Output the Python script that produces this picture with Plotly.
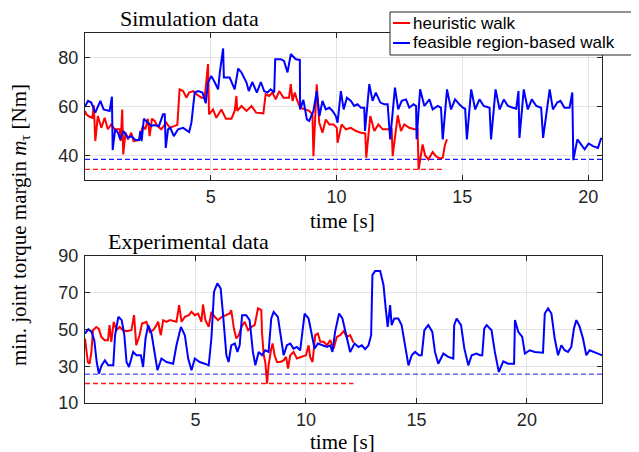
import plotly.graph_objects as go

# ---------------- data ----------------
sim_heur_t = [0, 0.05, 0.18, 0.29, 0.35, 0.41, 0.51, 0.65, 0.78, 0.91, 1.04, 1.18, 1.38, 1.42, 1.48, 1.52,
              1.61, 1.71, 1.84, 1.93, 2.15, 2.30, 2.40, 2.50, 2.57, 2.66, 2.77, 2.88, 3.03, 3.23, 3.37, 3.57,
              3.67, 3.76, 3.90, 4.03, 4.14, 4.30, 4.43, 4.63, 4.76, 4.89, 4.93, 5.09, 5.22, 5.42, 5.60, 5.82,
              5.95, 6.02, 6.05, 6.22, 6.42, 6.62, 6.80, 7.09, 7.18, 7.32, 7.45, 7.58, 7.72, 7.89, 8.11, 8.18,
              8.25, 8.34, 8.42, 8.55, 8.71, 8.91, 9.04, 9.08, 9.21, 9.31, 9.44, 9.57, 9.71, 9.88, 10.01, 10.04,
              10.20, 10.37, 10.57, 10.77, 10.97, 11.14, 11.18, 11.34, 11.50, 11.66, 11.83, 12.03, 12.19, 12.23,
              12.43, 12.56, 12.69, 12.89, 13.09, 13.22, 13.26, 13.42, 13.52, 13.65, 13.82, 13.95, 14.10, 14.22,
              14.31, 14.39]
sim_heur_m = [58.2, 56.8, 55.8, 55.4, 60.5, 45.9, 56.1, 51.3, 55.4, 50.7, 52.7, 50.7, 50.7, 45.9, 58.8, 40.4,
              49.3, 46.6, 49.3, 45.9, 46.3, 52.0, 50.7, 55.0, 47.9, 55.0, 54.1, 52.0, 50.7, 53.4, 51.3, 52.0,
              52.5, 67.0, 66.3, 63.6, 65.7, 66.3, 65.0, 63.6, 63.6, 77.3, 56.8, 58.8, 55.4, 58.8, 55.0, 55.0,
              58.2, 64.3, 58.2, 60.2, 58.2, 60.2, 57.5, 57.2, 65.0, 64.3, 65.7, 62.9, 66.3, 63.6, 63.6, 69.1,
              62.3, 65.7, 62.9, 59.5, 58.8, 58.2, 56.8, 39.7, 69.1, 53.4, 49.3, 54.7, 52.7, 52.7, 51.3, 45.2,
              52.7, 50.7, 51.3, 50.0, 49.3, 49.0, 39.1, 56.1, 50.0, 52.7, 50.7, 50.7, 50.7, 39.7,
              56.4, 50.0, 52.7, 51.3, 50.7, 50.7, 34.3, 44.5, 40.0, 38.4, 41.4, 39.7, 38.8, 39.1,
              44.5, 46.6]

sim_feas_t = [0, 0.12, 0.25, 0.41, 0.61, 0.74, 0.98, 1.07, 1.10, 1.20, 1.31, 1.40, 1.53, 1.71, 1.84, 2.01,
              2.15, 2.20, 2.25, 2.34, 2.50, 2.64, 2.73, 2.94, 3.10, 3.17, 3.21, 3.30, 3.39, 3.53, 3.70, 3.90,
              4.14, 4.23, 4.36, 4.49, 4.67, 4.80, 4.89, 5.02, 5.16, 5.29, 5.36, 5.49, 5.52, 5.75, 5.95, 6.09,
              6.22, 6.42, 6.51, 6.65, 6.83, 6.99, 7.12, 7.25, 7.38, 7.52, 7.56, 7.78, 7.91, 8.05, 8.18, 8.38,
              8.54, 8.55, 8.68, 8.82, 8.91, 9.08, 9.21, 9.32, 9.44, 9.57, 9.71, 9.84, 9.97, 10.04, 10.17, 10.28,
              10.41, 10.57, 10.70, 10.83, 10.97, 11.10, 11.13, 11.30, 11.43, 11.56, 11.74, 11.90, 12.03, 12.13,
              12.32, 12.45, 12.59, 12.76, 12.89, 13.06, 13.16, 13.18, 13.32, 13.49, 13.69, 13.82, 14.02, 14.15,
              14.22, 14.39, 14.55, 14.71, 14.88, 15.02, 15.11, 15.18, 15.35, 15.51, 15.68, 15.85, 16.08, 16.14,
              16.32, 16.48, 16.65, 16.81, 17.01, 17.14, 17.23, 17.27, 17.44, 17.60, 17.76, 17.94, 18.13, 18.21,
              18.47, 18.60, 18.77, 18.90, 19.06, 19.26, 19.37, 19.41, 19.57, 19.73, 19.86, 20.02, 20.19, 20.39,
              20.52]
sim_feas_m = [60.0, 62.3, 61.6, 57.5, 62.3, 58.8, 58.2, 64.0, 42.2, 50.7, 49.3, 46.6, 50.0, 47.2, 47.9, 46.3,
              46.3, 50.0, 45.9, 55.0, 53.4, 52.0, 52.4, 52.0, 56.8, 56.8, 43.1, 50.7, 51.3, 47.9, 50.7, 51.3,
              49.6, 53.4, 65.7, 66.3, 65.7, 61.3, 69.8, 72.5, 69.8, 67.0, 73.9, 83.7, 71.8, 71.8, 67.0, 75.5,
              73.9, 69.8, 66.3, 70.0, 65.7, 70.0, 66.3, 65.7, 67.0, 65.7, 79.3, 79.3, 78.6, 73.9, 81.4, 79.3,
              79.0, 58.8, 62.7, 54.7, 54.1, 58.2, 66.3, 56.1, 62.3, 58.8, 59.5, 58.2, 56.1, 53.4, 66.3, 58.8,
              63.6, 62.3, 60.2, 60.9, 59.5, 59.5, 50.0, 69.1, 62.3, 65.7, 61.6, 60.9, 60.9, 46.6,
              67.7, 58.8, 62.3, 62.9, 59.5, 60.9, 60.2, 46.6, 67.0, 60.2, 62.9, 58.8, 60.2, 59.5,
              46.6, 67.0, 58.8, 62.9, 60.9, 59.5, 59.1, 46.6, 67.0, 58.8, 62.9, 60.2, 59.5, 46.6,
              67.0, 58.8, 62.9, 60.2, 59.5, 59.1, 66.3, 47.2, 67.0, 58.8, 62.9, 60.2, 59.5, 47.2,
              67.0, 58.8, 61.6, 62.3, 59.5, 59.5, 65.7, 38.1, 46.6, 44.5, 42.5, 44.9, 43.8, 43.1,
              47.2]

exp_heur_t = [0, 0.06, 0.13, 0.21, 0.29, 0.36, 0.51, 0.62, 0.74, 0.89, 1.04, 1.11, 1.19, 1.30, 1.42, 1.57,
              1.72, 1.87, 2.10, 2.22, 2.32, 2.47, 2.58, 2.78, 2.93, 3.08, 3.19, 3.31, 3.43, 3.54, 3.69, 3.84,
              3.99, 4.14, 4.26, 4.37, 4.52, 4.70, 4.82, 4.97, 5.12, 5.27, 5.34, 5.45, 5.60, 5.72, 5.87, 6.02,
              6.20, 6.40, 6.55, 6.62, 6.74, 6.85, 6.96, 7.08, 7.23, 7.38, 7.53, 7.68, 7.83, 7.98, 8.01, 8.09,
              8.16, 8.24, 8.31, 8.43, 8.49, 8.58, 8.69, 8.84, 8.99, 9.10, 9.19, 9.29, 9.44, 9.59, 9.82, 10.00,
              10.12, 10.19, 10.30, 10.42, 10.54, 10.65, 10.80, 10.95, 11.10, 11.25, 11.40, 11.55, 11.70, 11.85,
              12.00, 12.15]
exp_heur_m = [45.1, 37.8, 32.3, 31.4, 37.8, 49.6, 51.4, 50.5, 46.0, 44.2, 44.2, 52.4, 43.3, 54.2, 49.6, 51.4,
              49.6, 49.1, 49.6, 57.8, 41.4, 46.9, 53.3, 54.2, 48.7, 49.6, 51.4, 54.2, 46.9, 55.1, 54.2, 55.1,
              54.6, 54.2, 63.3, 54.2, 56.9, 57.8, 59.6, 57.8, 58.7, 54.2, 63.6, 55.1, 51.4, 59.6, 56.9, 55.1,
              56.9, 57.8, 58.7, 60.5, 50.5, 45.1, 46.9, 51.4, 54.2, 49.6, 51.4, 52.4, 61.5, 60.5, 48.7, 36.0,
              32.3, 20.5, 30.5, 39.6, 42.4, 36.0, 32.3, 32.3, 33.2, 35.1, 28.7, 36.0, 37.8, 34.2, 35.1, 36.0,
              41.4, 35.1, 32.3, 46.9, 47.8, 43.3, 43.3, 41.4, 44.2, 39.6, 46.0, 46.9, 49.1, 46.0,
              46.9, 42.9]

exp_feas_t = [0, 0.15, 0.30, 0.42, 0.53, 0.63, 0.75, 0.90, 1.05, 1.28, 1.36, 1.51, 1.66, 1.78, 1.88, 1.99,
              2.18, 2.33, 2.53, 2.63, 2.74, 2.86, 3.01, 3.16, 3.28, 3.46, 3.69, 3.99, 4.14, 4.34, 4.52, 4.67,
              4.82, 4.97, 5.19, 5.42, 5.60, 5.72, 5.84, 5.99, 6.14, 6.25, 6.40, 6.50, 6.62, 6.78, 6.90, 7.00,
              7.11, 7.30, 7.45, 7.60, 7.71, 7.86, 8.01, 8.16, 8.31, 8.43, 8.54, 8.73, 8.84, 8.99, 9.14, 9.29,
              9.44, 9.59, 9.74, 9.85, 9.94, 10.12, 10.24, 10.39, 10.54, 10.72, 10.95, 11.10, 11.20, 11.32, 11.50,
              11.65, 11.85, 12.00, 12.20, 12.38, 12.53, 12.68, 12.83, 12.95, 13.01, 13.13, 13.36, 13.51, 13.61,
              13.70, 13.81, 13.88, 14.00, 14.18, 14.33, 14.45, 14.64, 14.79, 14.94, 15.12, 15.24, 15.36, 15.54,
              15.72, 15.84, 15.99, 16.22, 16.44, 16.67, 16.71, 16.82, 17.02, 17.17, 17.35, 17.50, 17.72, 17.87,
              17.98, 18.07, 18.18, 18.40, 18.55, 18.73, 18.93, 19.15, 19.42, 19.46, 19.61, 19.79, 19.91, 20.13,
              20.36, 20.73, 20.81, 20.96, 21.11, 21.26, 21.41, 21.56, 21.71, 21.86, 22.01, 22.13, 22.24, 22.39,
              22.54, 22.69, 22.84, 23.07, 23.22, 23.40]
exp_feas_m = [47.8, 50.2, 48.7, 44.2, 32.3, 26.0, 30.5, 33.2, 30.5, 30.5, 46.9, 56.9, 55.1, 46.9, 32.3, 29.6,
              37.8, 36.0, 36.0, 29.6, 45.1, 52.4, 47.8, 37.8, 27.8, 34.2, 32.3, 31.4, 41.4, 51.4, 46.9, 34.2,
              27.8, 34.2, 32.3, 31.4, 30.5, 45.1, 70.6, 75.1, 72.4, 57.8, 36.0, 32.3, 41.4, 42.4, 37.8, 41.4,
              57.8, 57.8, 55.1, 37.8, 30.5, 37.8, 36.0, 38.7, 37.8, 56.0, 59.6, 56.9, 48.7, 36.0, 41.4, 42.4,
              39.6, 40.5, 38.7, 49.6, 58.7, 56.0, 48.7, 39.6, 42.4, 41.4, 40.5, 41.4, 37.8, 48.7, 58.7,
              56.0, 45.1, 37.8, 42.4, 40.5, 41.4, 39.3, 41.4, 46.9, 79.7, 81.8, 81.8, 74.2, 61.5,
              51.4, 63.3, 52.4, 56.0, 56.0, 52.4, 43.3, 30.5, 36.0, 37.8, 36.0, 36.0, 49.6, 52.4,
              48.7, 37.8, 31.4, 36.9, 35.1, 34.2, 52.4, 56.0, 52.4, 39.6, 30.5, 36.0, 36.9, 36.0,
              36.0, 50.5, 52.4, 49.6, 37.8, 26.9, 32.7, 31.4, 31.4, 55.1, 48.7, 46.0, 36.9, 38.7,
              37.8, 37.4, 58.7, 61.5, 58.7, 45.1, 36.0, 41.4, 38.7, 37.8, 40.5, 50.5, 55.1, 51.4,
              45.1, 36.0, 38.7, 37.8, 36.9, 36.0]

# limits (dashed reference levels) and their time spans
sim_heur_limit, sim_heur_end = 34.3, 14.3
sim_feas_limit, sim_feas_end = 38.4, 20.55
exp_heur_limit, exp_heur_end = 20.6, 12.15
exp_feas_limit, exp_feas_end = 25.6, 23.4

sim_xticks = [5, 10, 15, 20]
sim_yticks = [40, 60, 80]
exp_xticks = [5, 10, 15, 20]
exp_yticks = [10, 30, 50, 70, 90]

series_names = ["heuristic walk", "feasible region-based walk"]

# ---------------- figure ----------------
RED = "#ff0000"
BLUE = "#0000ff"
SANS = "Liberation Sans, Arial, sans-serif"
SERIF = "Liberation Serif, Times New Roman, serif"
INK = "#262626"

fig = go.Figure()

def add_line(x, y, color, xa, ya, width=2, dash=None):
    fig.add_trace(go.Scatter(x=x, y=y, mode="lines", xaxis=xa, yaxis=ya, showlegend=False,
                             line=dict(color=color, width=width, dash=dash), hoverinfo="skip"))

# top: simulation
add_line([0, sim_feas_end], [sim_feas_limit] * 2, "rgba(0,0,255,0.9)", "x", "y", 1.3, "5px,3px")
add_line([0, sim_heur_end], [sim_heur_limit] * 2, "rgba(255,0,0,0.9)", "x", "y", 1.3, "5px,3px")
add_line(sim_heur_t, sim_heur_m, RED, "x", "y")
add_line(sim_feas_t, sim_feas_m, BLUE, "x", "y")

# bottom: experiment
add_line([0, exp_feas_end], [exp_feas_limit] * 2, "rgba(0,0,255,0.6)", "x2", "y2", 1.5, "5px,3px")
add_line([0, exp_heur_end], [exp_heur_limit] * 2, "rgba(255,0,0,0.9)", "x2", "y2", 1.3, "5px,3px")
add_line(exp_heur_t, exp_heur_m, RED, "x2", "y2")
add_line(exp_feas_t, exp_feas_m, BLUE, "x2", "y2")

# layout geometry: page pixels -> figure pixels (page has an 8 px body margin)
OFF = 8
W, H = 631, 444
L, T = 85 - OFF, 33 - OFF
R = W - (602 - OFF)
B = H - (403 - OFF)
PW, PH = W - L - R, H - T - B

def px(xp):
    return (xp - OFF - L) / PW

def py(yp):
    return (H - B - (yp - OFF)) / PH

axis_common = dict(showline=True, linecolor=INK, linewidth=1, mirror="ticks",
                   ticks="inside", ticklen=5, tickcolor=INK, tickwidth=1,
                   showgrid=True, gridcolor="#e3e3e3", gridwidth=1, zeroline=False,
                   automargin=False, tickfont=dict(family=SANS, size=18, color=INK))

fig.update_layout(
    width=W, height=H,
    margin=dict(l=L, r=R, t=T, b=B),
    paper_bgcolor="white", plot_bgcolor="white",
    xaxis=dict(domain=[0, 1], anchor="y", range=[0, 20.55], tickvals=sim_xticks,
               ticklabelstandoff=0, **axis_common),
    yaxis=dict(domain=[py(180), 1], anchor="x", range=[30, 90], tickvals=sim_yticks,
               ticklabelstandoff=2, **axis_common),
    xaxis2=dict(domain=[0, 1], anchor="y2", range=[0, 23.4], tickvals=exp_xticks,
                ticklabelstandoff=0, **axis_common),
    yaxis2=dict(domain=[0, py(256)], anchor="x2", range=[10, 90], tickvals=exp_yticks,
                ticklabelstandoff=2, **axis_common),
)

ann = []
def text(x, y, s, size, family=SERIF, xanchor="center", angle=0):
    ann.append(dict(x=x, y=y, xref="paper", yref="paper", text=s, showarrow=False,
                    xanchor=xanchor, yanchor="middle", textangle=angle,
                    font=dict(family=family, size=size, color="black")))

text(px(189), py(19), "Simulation data", 22)
text(px(188), py(241), "Experimental data", 22)
text(px(342), py(221), "time [s]", 21)
text(px(342), py(442), "time [s]", 21)
text(px(20), py(225), "min. joint torque margin <i>m</i><sub>τ</sub> [Nm]", 21, angle=-90)

# legend box
shapes = [dict(type="rect", xref="paper", yref="paper", x0=px(390), x1=px(638), y0=py(55), y1=py(12),
               line=dict(color=INK, width=1), fillcolor="white", layer="above")]
for name, color, yy in [(series_names[0], RED, 23), (series_names[1], BLUE, 43)]:
    shapes.append(dict(type="line", xref="paper", yref="paper", x0=px(393), x1=px(410), y0=py(yy), y1=py(yy),
                       line=dict(color=color, width=2), layer="above"))
    ann.append(dict(x=px(411), y=py(yy), xref="paper", yref="paper", text=name, showarrow=False,
                    xanchor="left", yanchor="middle", font=dict(family=SANS, size=17, color="black")))

fig.update_layout(annotations=ann, shapes=shapes)
fig.write_html("out.html")
